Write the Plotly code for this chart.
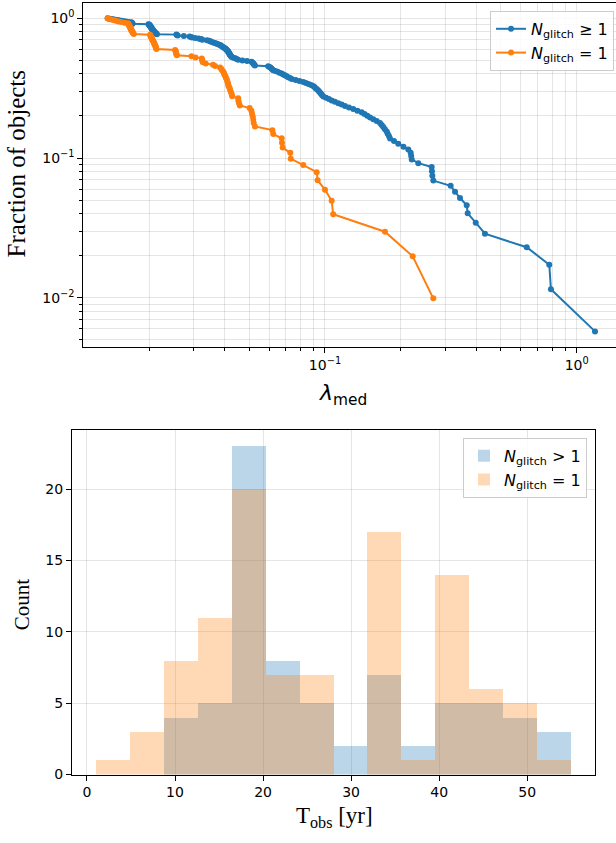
import plotly.graph_objects as go

# ---------------- data ----------------
# lambda_med values (sorted) for pulsars with N_glitch >= 1 and N_glitch = 1
lam_all = [
    0.0137, 0.0139, 0.0142, 0.0144, 0.0147, 0.0150, 0.0153, 0.0156, 0.0159, 0.0162, 0.0166, 0.0170,
    0.0171, 0.0171, 0.0172, 0.0172,
    0.0199,
    0.0200, 0.0201, 0.0201, 0.0202, 0.0202, 0.0203, 0.0203, 0.0204, 0.0204, 0.0205, 0.0205, 0.0206,
    0.0206, 0.0207, 0.0207, 0.0208, 0.0209, 0.0209, 0.0210, 0.0211, 0.0212, 0.0213, 0.0214, 0.0215,
    0.0257, 0.0258, 0.0260,
    0.0275, 0.0290, 0.0294, 0.0296,
    0.0305, 0.0315, 0.0320, 0.0323, 0.0326,
    0.0340, 0.0347, 0.0350,
    0.0355, 0.0360, 0.0365, 0.0370, 0.0374, 0.0378, 0.0383,
    0.0386, 0.0389, 0.0392, 0.0395, 0.0398, 0.0401, 0.0404, 0.0406, 0.0408, 0.0410, 0.0412, 0.0413,
    0.0415, 0.0416, 0.0417, 0.0419, 0.0420, 0.0422, 0.0424, 0.0426,
    0.0433, 0.0440, 0.0446, 0.0452,
    0.0470, 0.0490, 0.0511,
    0.0515, 0.0518, 0.0521, 0.0524, 0.0527,
    0.0595,
    0.0603, 0.0608, 0.0613, 0.0618, 0.0623,
    0.0635, 0.0648, 0.0660, 0.0673,
    0.0683, 0.0693, 0.0704, 0.0715, 0.0726, 0.0738,
    0.0765, 0.0792, 0.0820,
    0.0840, 0.0860, 0.0880, 0.0898,
    0.0908, 0.0918, 0.0929, 0.0940,
    0.0948, 0.0957, 0.0966, 0.0975, 0.0985,
    0.1010, 0.1036, 0.1063,
    0.1095, 0.1130, 0.1165, 0.1201,
    0.1245, 0.1295, 0.1345, 0.1398,
    0.1435, 0.1472, 0.1510,
    0.1555, 0.1605, 0.1654,
    0.1680, 0.1705, 0.1730, 0.1759,
    0.1775, 0.1795, 0.1813,
    0.1880, 0.1955,
    0.2050, 0.2143,
    0.2190, 0.2200, 0.2211,
    0.2348,
    0.2654, 0.2660, 0.2670,
    0.2693, 0.3157, 0.3285, 0.3439, 0.3656, 0.3689, 0.3970, 0.4320, 0.6330, 0.7780, 0.7900, 1.1820,
]

lam_one = [
    0.0137, 0.0139, 0.0142, 0.0145, 0.0148, 0.0151, 0.0155, 0.0160, 0.0165,
    0.0166, 0.0166, 0.0167, 0.0167, 0.0168, 0.0168, 0.0169, 0.0169, 0.0170, 0.0170, 0.0171, 0.0172,
    0.0172, 0.0173, 0.0174,
    0.0202, 0.0203, 0.0203, 0.0204, 0.0205, 0.0206, 0.0206, 0.0207, 0.0208, 0.0209, 0.0210, 0.0210,
    0.0211, 0.0212, 0.0213, 0.0213, 0.0214,
    0.0254, 0.0255, 0.0256, 0.0256, 0.0257,
    0.0258, 0.0295, 0.0306, 0.0324, 0.0325,
    0.0326, 0.0327, 0.0336,
    0.0359, 0.0366,
    0.0383, 0.0387, 0.0390, 0.0394, 0.0397,
    0.0398, 0.0402, 0.0404, 0.0407, 0.0409, 0.0411, 0.0413, 0.0414, 0.0418, 0.0420,
    0.0423, 0.0426, 0.0428, 0.0452, 0.0453, 0.0455, 0.0459, 0.0502, 0.0510, 0.0513, 0.0517, 0.0519,
    0.0521, 0.0527, 0.0618, 0.0623, 0.0673, 0.0675, 0.0679, 0.0728, 0.0731, 0.0820, 0.0927, 0.0935,
    0.1000, 0.1063, 0.1078, 0.1731, 0.2231, 0.2693,
]

# histogram of observing span T_obs [yr]
bin_edges = [1.0, 4.857, 8.714, 12.571, 16.429, 20.286, 24.143, 28.0,
             31.857, 35.714, 39.571, 43.429, 47.286, 51.143, 55.0]
counts_multi = [0, 0, 4, 5, 23, 8, 5, 2, 7, 2, 5, 5, 4, 3]
counts_single = [1, 3, 8, 11, 20, 7, 7, 0, 17, 1, 14, 6, 5, 1]

labels_top = ["<i>N</i><sub>glitch</sub> ≥ 1", "<i>N</i><sub>glitch</sub> = 1"]
labels_bot = ["<i>N</i><sub>glitch</sub> > 1", "<i>N</i><sub>glitch</sub> = 1"]

# ---------------- layout helpers ----------------
W, H = 616, 843
def fx(p): return p / W
def fy(p): return 1 - p / H

BLUE = "#1f77b4"
ORANGE = "#ff7f0e"
GRID = "rgba(0,0,0,0.10)"
TICKFONT = dict(family="DejaVu Sans", size=14, color="black")
SERIF = "Liberation Serif"

# empirical survival fraction (rank-based)
def survival(vals):
    n = len(vals)
    return [(n - i) / n for i in range(n)]

fig = go.Figure()

fig.add_trace(go.Scatter(
    x=lam_all, y=survival(lam_all), mode="lines+markers", name=labels_top[0],
    line=dict(color=BLUE, width=2), marker=dict(color=BLUE, size=6),
    xaxis="x", yaxis="y", legend="legend"))
fig.add_trace(go.Scatter(
    x=lam_one, y=survival(lam_one), mode="lines+markers", name=labels_top[1],
    line=dict(color=ORANGE, width=2), marker=dict(color=ORANGE, size=6),
    xaxis="x", yaxis="y", legend="legend"))

centers = [(bin_edges[i] + bin_edges[i + 1]) / 2 for i in range(len(bin_edges) - 1)]
widths = [bin_edges[i + 1] - bin_edges[i] for i in range(len(bin_edges) - 1)]

fig.add_trace(go.Bar(
    x=centers, y=counts_multi, width=widths, name=labels_bot[0],
    marker=dict(color="rgba(31,119,180,0.3)", line=dict(width=0)),
    xaxis="x2", yaxis="y2", legend="legend2"))
fig.add_trace(go.Bar(
    x=centers, y=counts_single, width=widths, name=labels_bot[1],
    marker=dict(color="rgba(255,127,14,0.3)", line=dict(width=0)),
    xaxis="x2", yaxis="y2", legend="legend2"))

minor_x = [m * 10 ** d for d in (-2, -1) for m in range(2, 10)]
minor_y = [m * 10 ** d for d in (-3, -2, -1) for m in range(2, 10)]

common_axis = dict(showline=True, linecolor="black", linewidth=1, ticks="outside",
                   ticklen=5, tickcolor="black", tickfont=TICKFONT, zeroline=False,
                   gridcolor=GRID, gridwidth=1, showgrid=True)

fig.update_layout(
    width=W, height=H, margin=dict(l=0, r=0, t=0, b=0),
    paper_bgcolor="white", plot_bgcolor="white",
    barmode="overlay", bargap=0,
    xaxis=dict(common_axis, type="log", domain=[fx(83.3), 1.0], range=[-1.960, 0.156],
               anchor="y", mirror=True,
               tickmode="array", tickvals=[0.01, 0.1, 1],
               ticktext=["10<sup>−2</sup>", "10<sup>−1</sup>", "10<sup>0</sup>"],
               minor=dict(tickmode="array", tickvals=minor_x, ticks="outside", ticklen=3,
                          tickcolor="black", showgrid=True, gridcolor=GRID)),
    yaxis=dict(common_axis, type="log", domain=[fy(350.7), fy(2.7)], range=[-2.355, 0.112],
               anchor="x", mirror=False,
               tickmode="array", tickvals=[0.01, 0.1, 1],
               ticktext=["10<sup>−2</sup>", "10<sup>−1</sup>", "10<sup>0</sup>"],
               minor=dict(tickmode="array", tickvals=minor_y, ticks="outside", ticklen=3,
                          tickcolor="black", showgrid=True, gridcolor=GRID)),
    xaxis2=dict(common_axis, domain=[fx(72), fx(595)], range=[-1.7, 57.7], anchor="y2",
                mirror=True, tickmode="array", tickvals=[0, 10, 20, 30, 40, 50]),
    yaxis2=dict(common_axis, domain=[fy(782), fy(434)], range=[0, 24.15], anchor="x2",
                mirror=True, tickmode="array", tickvals=[0, 5, 10, 15, 20]),
    legend=dict(x=fx(614), xanchor="right", y=fy(11), yanchor="top",
                bgcolor="rgba(255,255,255,0.85)", bordercolor="#cccccc", borderwidth=1,
                font=dict(family="DejaVu Sans", size=16, color="black")),
    legend2=dict(x=fx(587), xanchor="right", y=fy(442), yanchor="top",
                 bgcolor="rgba(255,255,255,0.85)", bordercolor="#cccccc", borderwidth=1,
                 font=dict(family="DejaVu Sans", size=16, color="black")),
    annotations=[
        dict(text="Fraction of objects", x=fx(16), y=fy(166), xref="paper", yref="paper",
             textangle=-90, showarrow=False, xanchor="center", yanchor="middle",
             font=dict(family=SERIF, size=25, color="black")),
        dict(text="<i>λ</i><sub>med</sub>", x=fx(343), y=fy(398), xref="paper", yref="paper",
             showarrow=False, xanchor="center", yanchor="middle",
             font=dict(family="DejaVu Sans", size=22, color="black")),
        dict(text="Count", x=fx(22), y=fy(610), xref="paper", yref="paper",
             textangle=-90, showarrow=False, xanchor="center", yanchor="middle",
             font=dict(family=SERIF, size=21, color="black")),
        dict(text="T<sub>obs</sub> [yr]", x=fx(334), y=fy(825), xref="paper", yref="paper",
             showarrow=False, xanchor="center", yanchor="middle",
             font=dict(family=SERIF, size=23, color="black")),
    ],
)

fig.write_html("out.html")
